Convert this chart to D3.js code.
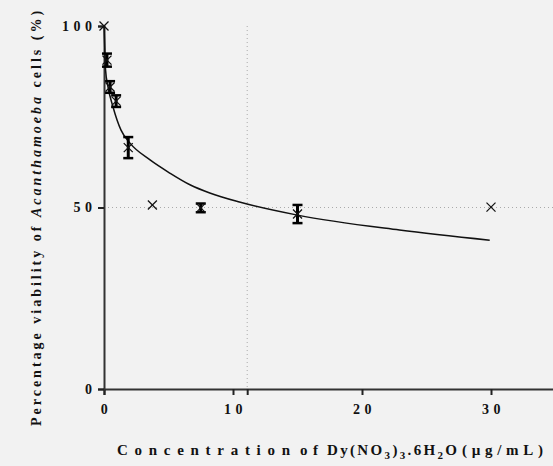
<!DOCTYPE html>
<html>
<head>
<meta charset="utf-8">
<script src="https://cdn.jsdelivr.net/npm/d3@7"></script>
<style>
  body { margin: 0; background: #f2f2f2; }
  svg { display: block; }
</style>
</head>
<body>
<script>
// mean points with error bars (conc in ug/mL, viability %)
var barX = [0.23, 0.47, 0.94, 1.88, 7.5, 15];
var barY = [90.6, 83.2, 79.3, 66.5, 49.9, 48.2];
var barErr = [1.8, 1.6, 1.6, 2.9, 1.2, 2.5];

// points without error bars
var ptX = [0, 3.75, 30];
var ptY = [100, 50.7, 50.1];

// fitted curve
var curveX = [0, 0.05, 0.12, 0.31, 0.70, 1.32, 2.0, 3.57, 5.1, 6.7, 8.2, 10.5, 15.0, 22.9, 29.9];
var curveY = [100, 95, 87.9, 83.2, 77.7, 71.3, 67.8, 63.1, 59.5, 56.2, 54.0, 51.5, 47.9, 43.8, 41.0];

var xTicks = [0, 10, 20, 30];
var yTicks = [0, 50, 100];
var gridX = [11.1];
var gridY = [50];

var serif = "'Liberation Serif', 'Times New Roman', serif";
var width = 553, height = 466;
var svg = d3.select('body').append('svg').attr('width', width).attr('height', height);

var x = d3.scaleLinear().domain([0, 35]).range([104, 555.5]);
var y = d3.scaleLinear().domain([0, 100]).range([389, 26]);

// dotted grid
svg.selectAll('.gx').data(gridX).enter().append('line')
  .attr('x1', d => x(d)).attr('x2', d => x(d))
  .attr('y1', y(100)).attr('y2', y(0))
  .attr('stroke', '#aaa').attr('stroke-width', 1).attr('stroke-dasharray', '1,3');
svg.selectAll('.gy').data(gridY).enter().append('line')
  .attr('x1', x(0)).attr('x2', width)
  .attr('y1', d => y(d)).attr('y2', d => y(d))
  .attr('stroke', '#aaa').attr('stroke-width', 1).attr('stroke-dasharray', '1,3');

// axes
var xAxis = svg.append('g').attr('transform', 'translate(0,' + y(0) + ')')
  .call(d3.axisBottom(x).tickValues(xTicks.concat(gridX)).tickSize(6).tickPadding(9)
    .tickFormat(d => xTicks.indexOf(d) >= 0 ? d : ''));
var yAxis = svg.append('g').attr('transform', 'translate(' + x(0) + ',0)')
  .call(d3.axisLeft(y).tickValues(yTicks).tickSize(6).tickPadding(6));

[xAxis, yAxis].forEach(function (g) {
  g.attr('font-family', serif).attr('font-size', 14).attr('font-weight', 'bold');
  g.select('.domain').attr('stroke', '#333').attr('stroke-width', 2);
  g.selectAll('.tick line').attr('stroke', '#222').attr('stroke-width', 2);
  g.selectAll('.tick text').style('letter-spacing', '4.5px').attr('fill', '#111');
});
yAxis.selectAll('.tick text').attr('dx', '4.5px');
xAxis.selectAll('.tick text').attr('dx', '2px');

// curve
var line = d3.line().x(d => x(d[0])).y(d => y(d[1])).curve(d3.curveMonotoneX);
svg.append('path').datum(d3.zip(curveX, curveY))
  .attr('d', line).attr('fill', 'none').attr('stroke', '#111').attr('stroke-width', 1.5);

// error bars
var bars = svg.selectAll('.bar').data(d3.range(barX.length)).enter().append('g');
bars.append('line')
  .attr('x1', i => x(barX[i])).attr('x2', i => x(barX[i]))
  .attr('y1', i => y(barY[i] + barErr[i])).attr('y2', i => y(barY[i] - barErr[i]))
  .attr('stroke', '#000').attr('stroke-width', 3);
bars.selectAll('.cap').data(i => [[i, 1], [i, -1]]).enter().append('line')
  .attr('x1', d => x(barX[d[0]]) - 5).attr('x2', d => x(barX[d[0]]) + 5)
  .attr('y1', d => y(barY[d[0]] + d[1] * barErr[d[0]]))
  .attr('y2', d => y(barY[d[0]] + d[1] * barErr[d[0]]))
  .attr('stroke', '#000').attr('stroke-width', 2.5);

// cross markers
var allX = ptX.concat(barX), allY = ptY.concat(barY);
svg.selectAll('.pt').data(d3.range(allX.length)).enter().append('g')
  .attr('transform', i => 'translate(' + x(allX[i]) + ',' + y(allY[i]) + ')')
  .each(function () {
    var g = d3.select(this);
    g.append('line').attr('x1', -4.5).attr('y1', -4.5).attr('x2', 4.5).attr('y2', 4.5).attr('stroke', '#111').attr('stroke-width', 1.3);
    g.append('line').attr('x1', -4.5).attr('y1', 4.5).attr('x2', 4.5).attr('y2', -4.5).attr('stroke', '#111').attr('stroke-width', 1.3);
  });

// x title, spread in word groups like the original
function titlePart(x0, len) {
  return svg.append('text').attr('x', x0).attr('y', 455)
    .attr('font-family', serif).attr('font-weight', 'bold').attr('font-size', 15)
    .attr('fill', '#111').attr('textLength', len).attr('lengthAdjust', 'spacing');
}
titlePart(117, 173).text('Concentration');
titlePart(300, 18).text('of');
var f = titlePart(327, 130);
f.append('tspan').text('Dy(NO');
f.append('tspan').text('3').attr('dy', 4).attr('font-size', 11);
f.append('tspan').text(')').attr('dy', -4);
f.append('tspan').text('3').attr('dy', 4).attr('font-size', 11);
f.append('tspan').text('.6H').attr('dy', -4);
f.append('tspan').text('2').attr('dy', 4).attr('font-size', 11);
f.append('tspan').text('O').attr('dy', -4);
titlePart(462, 81).text('(µg/mL)');

// y title
var yt = svg.append('text').attr('transform', 'translate(41,217) rotate(-90)')
  .attr('text-anchor', 'middle').attr('font-family', serif).attr('font-weight', 'bold')
  .attr('font-size', 14).attr('fill', '#111').style('letter-spacing', '3px');
yt.append('tspan').text('Percentage viability of ');
yt.append('tspan').text('Acanthamoeba').attr('font-style', 'italic');
yt.append('tspan').text(' cells (%)');
</script>
</body>
</html>
